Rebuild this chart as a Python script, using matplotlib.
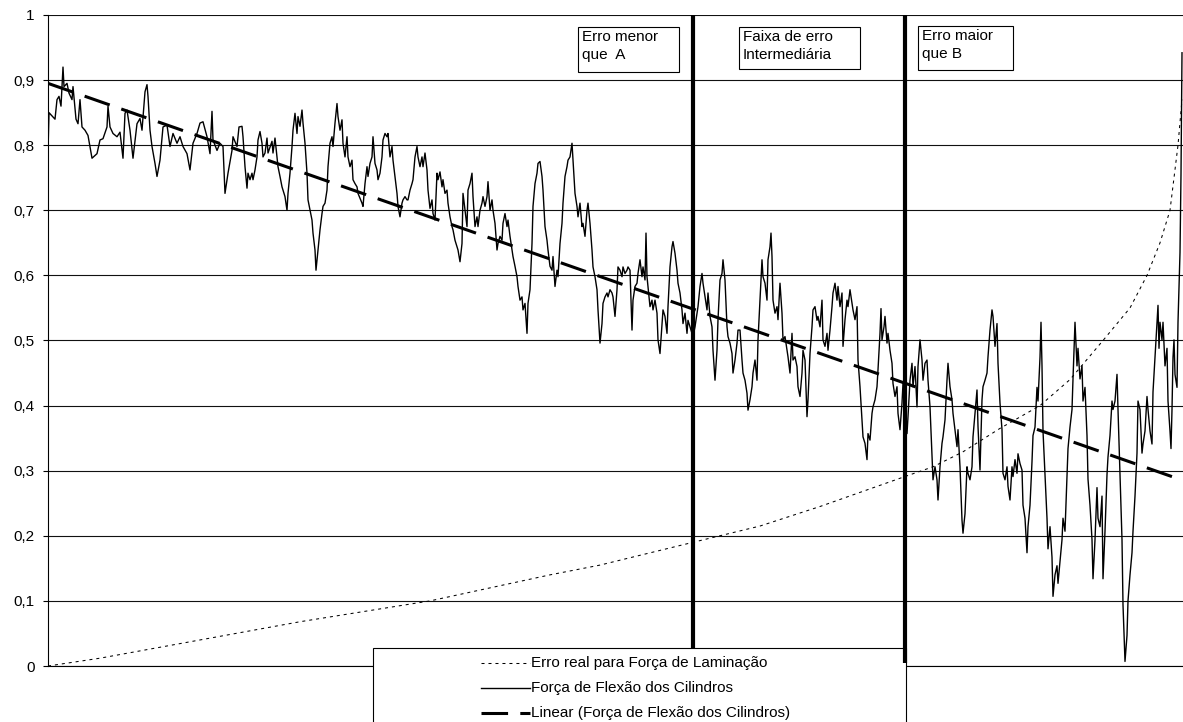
import matplotlib.pyplot as plt
from matplotlib.patches import Rectangle
from matplotlib.lines import Line2D

plt.rcParams['font.family'] = ['Liberation Sans', 'DejaVu Sans']

# ----------------------------------------------
# Data (samples sorted by rolling-force error)
# ----------------------------------------------
N_SAMPLES = 1135

flex_x = [
    0, 1, 4, 7, 9, 11, 13, 15, 16, 19,
    21, 24, 25, 28, 30, 32, 34, 37, 40, 44,
    49, 52, 55, 59, 60, 62, 65, 69, 72, 75,
    77, 79, 82, 85, 89, 92, 94, 97, 99, 100,
    102, 104, 107, 109, 112, 115, 119, 122, 125, 129,
    132, 135, 139, 142, 145, 149, 152, 155, 159, 162,
    164, 165, 169, 172, 175, 177, 180, 184, 185, 189,
    191,
    194, 195, 197, 199, 200, 202, 204, 205, 207, 209,
    210, 212, 214, 215, 217, 219, 220, 224, 225, 227,
    229, 230, 232, 234, 237, 239, 240, 242, 244, 245,
    247, 249, 250, 252, 254, 255, 257, 259, 260, 264,
    265, 267, 268, 270, 272, 274, 275, 277, 279, 280,
    282, 284, 285, 287, 289, 290, 292, 294, 295, 297,
    299, 300, 302, 304, 305, 307, 309, 310, 314, 315,
    317, 319, 320, 322, 324, 325, 327, 329, 330, 332,
    334, 335, 337, 339, 340, 342, 344, 345, 347, 349,
    350, 352, 354, 355, 357, 359, 360, 362, 364, 365,
    367, 369, 370, 372, 374, 375, 377, 379, 380, 382,
    384, 385, 387,
    389, 390, 392, 394, 395, 397, 399, 400, 402, 404,
    405, 407, 409, 410, 412, 414, 415, 417, 419, 420,
    422, 424, 425, 427, 429, 430, 432, 434, 435, 437,
    439, 440, 442, 444, 445, 447, 449, 450, 452, 454,
    455, 457, 459, 460, 462, 464, 465, 467, 469, 470,
    472, 474, 475, 477, 479, 480, 482, 484, 485, 487,
    489, 490, 492, 494, 495, 497, 499, 500, 502, 504,
    505, 507, 509, 510, 512, 514, 515, 517, 519, 520,
    522, 524, 525, 527, 529, 530, 532, 534, 535, 537,
    539, 540, 542, 544, 545, 547, 549, 550, 552, 554,
    555, 557, 559, 560, 562, 564, 565, 567, 569, 570,
    572, 574, 575, 577, 579, 580, 582,
    584, 585, 587, 589, 590, 592, 594, 595, 597, 598,
    599, 600, 602, 604, 605, 607, 609, 610, 612, 614,
    615, 617, 619, 620, 622, 624, 625, 627, 629, 630,
    632, 634, 635, 637, 639, 640, 642, 644, 645, 647,
    649, 650, 652, 654, 655, 657, 659, 660, 662, 664,
    665, 667, 669, 670, 672, 674, 675, 677, 679, 680,
    682, 684, 685, 687, 689, 690, 692, 694, 695, 697,
    699, 700, 702, 704, 705, 707, 709, 710, 712, 714,
    715, 717, 719, 720, 722, 723, 724, 725, 727, 729,
    730, 732, 734, 735, 737, 739, 740, 742, 744, 745,
    747, 749, 750, 752, 754, 755, 757, 759, 760, 762,
    764, 765, 767, 769, 770, 772, 774, 775, 777,
    779, 780, 782, 784, 785, 787, 789, 790, 792, 794,
    795, 797, 799, 800, 802, 804, 805, 807, 809, 810,
    812, 814, 815, 817, 819, 820, 822, 824, 825, 827,
    829, 830, 832, 833, 834, 836, 837, 839, 840, 842,
    844, 845, 847, 849, 850, 852, 854, 855, 857, 859,
    860, 862, 864, 865, 867, 869, 870, 872, 874, 875,
    877, 879, 880, 882, 884, 885, 887, 889, 890, 892,
    894, 895, 897, 899, 900, 902, 904, 905, 907, 909,
    910, 912, 914, 915, 917, 919, 920, 922, 924, 925,
    927, 929, 930, 932, 934, 935, 937, 939, 940, 942,
    944, 945, 947, 949, 950, 952, 954, 955, 957, 959,
    960, 962, 964, 965, 967, 969, 970, 972,
    974, 975, 977, 979, 980, 982, 984, 985, 987, 989,
    990, 992, 993, 994, 995, 997, 999, 1000, 1002, 1004,
    1005, 1007, 1009, 1010, 1012, 1014, 1015, 1017, 1019, 1020,
    1022, 1024, 1025, 1027, 1029, 1030, 1032, 1034, 1035, 1037,
    1039, 1040, 1042, 1044, 1045, 1047, 1049, 1050, 1052, 1054,
    1055, 1057, 1059, 1060, 1062, 1064, 1065, 1067, 1069, 1070,
    1072, 1074, 1075, 1077, 1079, 1080, 1082, 1084, 1085, 1087,
    1089, 1090, 1092, 1094, 1095, 1097, 1099, 1100, 1102, 1104,
    1105, 1107, 1109, 1110, 1111, 1112, 1114, 1115, 1117, 1119,
    1120, 1122, 1123, 1124, 1125, 1126, 1127, 1129, 1130, 1132,
    1133, 1134,
]

flex_y = [
    0.79, 0.85, 0.845, 0.84, 0.87, 0.875, 0.86, 0.92, 0.89, 0.895,
    0.88, 0.87, 0.89, 0.84, 0.833, 0.87, 0.828, 0.823, 0.815, 0.78,
    0.787, 0.808, 0.81, 0.828, 0.86, 0.828, 0.818, 0.813, 0.82, 0.78,
    0.849, 0.854, 0.823, 0.78, 0.833, 0.841, 0.823, 0.882, 0.893, 0.875,
    0.823, 0.798, 0.772, 0.752, 0.777, 0.828, 0.831, 0.798, 0.818, 0.803,
    0.813, 0.798, 0.787, 0.762, 0.803, 0.818, 0.834, 0.836, 0.813, 0.787,
    0.852, 0.808, 0.792, 0.803, 0.798, 0.726, 0.757, 0.792, 0.813, 0.798,
    0.828,
    0.829, 0.813, 0.767, 0.734, 0.757, 0.747, 0.757, 0.747, 0.762, 0.782,
    0.808, 0.821, 0.803, 0.782, 0.788, 0.811, 0.788, 0.806, 0.788, 0.811,
    0.782, 0.767, 0.752, 0.736, 0.721, 0.700, 0.726, 0.757, 0.798, 0.823,
    0.849, 0.818, 0.844, 0.829, 0.854, 0.834, 0.803, 0.757, 0.716, 0.685,
    0.665, 0.639, 0.608, 0.639, 0.670, 0.695, 0.706, 0.711, 0.731, 0.767,
    0.803, 0.813, 0.798, 0.834, 0.864, 0.844, 0.823, 0.839, 0.803, 0.782,
    0.813, 0.782, 0.767, 0.777, 0.747, 0.741, 0.736, 0.726, 0.711, 0.706,
    0.741, 0.767, 0.752, 0.772, 0.782, 0.813, 0.772, 0.762, 0.747, 0.757,
    0.782, 0.808, 0.818, 0.813, 0.818, 0.782, 0.798, 0.777, 0.752, 0.726,
    0.706, 0.690, 0.711, 0.716, 0.721, 0.716, 0.716, 0.731, 0.741, 0.747,
    0.782, 0.798, 0.782, 0.767, 0.782, 0.767, 0.788, 0.762, 0.731, 0.703,
    0.716, 0.695, 0.685,
    0.757, 0.747, 0.759, 0.736, 0.747, 0.726, 0.731, 0.711, 0.690, 0.675,
    0.670, 0.654, 0.644, 0.639, 0.621, 0.649, 0.726, 0.700, 0.675, 0.731,
    0.741, 0.757, 0.721, 0.675, 0.690, 0.675, 0.700, 0.711, 0.721, 0.706,
    0.721, 0.744, 0.700, 0.716, 0.700, 0.680, 0.639, 0.649, 0.660, 0.654,
    0.680, 0.695, 0.675, 0.685, 0.660, 0.639, 0.629, 0.614, 0.598, 0.583,
    0.562, 0.567, 0.547, 0.557, 0.511, 0.557, 0.578, 0.649, 0.706, 0.741,
    0.757, 0.772, 0.775, 0.752, 0.731, 0.675, 0.654, 0.639, 0.614, 0.608,
    0.629, 0.583, 0.608, 0.598, 0.649, 0.680, 0.711, 0.752, 0.767, 0.777,
    0.782, 0.803, 0.777, 0.726, 0.706, 0.690, 0.711, 0.675, 0.680, 0.660,
    0.700, 0.711, 0.680, 0.639, 0.613, 0.598, 0.578, 0.547, 0.496, 0.526,
    0.557, 0.567, 0.573, 0.567, 0.578, 0.573, 0.567, 0.537, 0.578, 0.613,
    0.608, 0.598, 0.613, 0.603, 0.608, 0.613, 0.608,
    0.516, 0.562, 0.583, 0.588, 0.603, 0.624, 0.598, 0.613, 0.593, 0.665,
    0.598, 0.583, 0.552, 0.562, 0.547, 0.562, 0.542, 0.501, 0.480, 0.526,
    0.547, 0.537, 0.511, 0.552, 0.613, 0.644, 0.652, 0.634, 0.608, 0.588,
    0.573, 0.547, 0.526, 0.542, 0.511, 0.531, 0.521, 0.511, 0.506, 0.521,
    0.542, 0.552, 0.583, 0.603, 0.588, 0.567, 0.547, 0.573, 0.537, 0.521,
    0.485, 0.439, 0.485, 0.532, 0.593, 0.603, 0.624, 0.593, 0.521, 0.506,
    0.496, 0.480, 0.450, 0.470, 0.496, 0.516, 0.516, 0.470, 0.450, 0.439,
    0.419, 0.393, 0.409, 0.429, 0.450, 0.470, 0.439, 0.501, 0.562, 0.624,
    0.598, 0.588, 0.562, 0.624, 0.644, 0.665, 0.629, 0.562, 0.542, 0.552,
    0.532, 0.588, 0.542, 0.501, 0.506, 0.485, 0.475, 0.450, 0.511, 0.470,
    0.475, 0.460, 0.429, 0.414, 0.450, 0.485, 0.470, 0.383, 0.409, 0.480,
    0.521, 0.547, 0.552, 0.531, 0.537, 0.521, 0.562, 0.501, 0.491,
    0.511, 0.485, 0.516, 0.552, 0.573, 0.588, 0.562, 0.583, 0.552, 0.573,
    0.491, 0.532, 0.562, 0.552, 0.578, 0.557, 0.547, 0.532, 0.552, 0.470,
    0.429, 0.378, 0.352, 0.342, 0.317, 0.357, 0.347, 0.388, 0.398, 0.409,
    0.429, 0.455, 0.511, 0.549, 0.501, 0.521, 0.537, 0.496, 0.511, 0.485,
    0.465, 0.434, 0.414, 0.429, 0.388, 0.363, 0.404, 0.434, 0.393, 0.357,
    0.383, 0.439, 0.465, 0.429, 0.460, 0.398, 0.460, 0.501, 0.470, 0.439,
    0.465, 0.470, 0.439, 0.398, 0.321, 0.286, 0.306, 0.286, 0.255, 0.306,
    0.342, 0.352, 0.378, 0.439, 0.465, 0.429, 0.409, 0.388, 0.363, 0.337,
    0.363, 0.306, 0.224, 0.204, 0.234, 0.306, 0.296, 0.286, 0.306, 0.352,
    0.388, 0.424, 0.368, 0.301, 0.409, 0.429, 0.439, 0.450, 0.475, 0.516,
    0.547, 0.537, 0.491, 0.526, 0.465, 0.404, 0.363, 0.296, 0.286, 0.306,
    0.276, 0.255, 0.306, 0.291, 0.317, 0.296, 0.326, 0.311,
    0.301, 0.247, 0.227, 0.174, 0.214, 0.247, 0.314, 0.354, 0.367, 0.428,
    0.407, 0.474, 0.528, 0.461, 0.361, 0.294, 0.227, 0.180, 0.214, 0.167,
    0.107, 0.140, 0.154, 0.127, 0.160, 0.194, 0.227, 0.207, 0.294, 0.334,
    0.367, 0.394, 0.441, 0.528, 0.461, 0.488, 0.441, 0.461, 0.407, 0.428,
    0.354, 0.287, 0.247, 0.194, 0.134, 0.194, 0.274, 0.227, 0.214, 0.261,
    0.134, 0.207, 0.294, 0.321, 0.354, 0.407, 0.394, 0.407, 0.448, 0.394,
    0.294, 0.194, 0.094, 0.007, 0.047, 0.100, 0.140, 0.174, 0.207, 0.261,
    0.327, 0.407, 0.394, 0.327, 0.341, 0.361, 0.414, 0.394, 0.361, 0.341,
    0.421, 0.474, 0.528, 0.554, 0.488, 0.528, 0.501, 0.528, 0.461, 0.488,
    0.407, 0.361, 0.334, 0.394, 0.474, 0.501, 0.448, 0.428, 0.528, 0.635,
    0.755, 0.942,
]

# real error of the rolling force model (sorted ascending)
erro_x = [0, 52, 152, 252, 382, 502, 552, 645, 712, 772, 855, 885, 915,
          952, 992, 1022, 1055, 1082, 1099, 1112, 1122, 1130, 1134]
erro_y = [0.0, 0.012, 0.04, 0.068, 0.10, 0.14, 0.155, 0.19, 0.215, 0.245,
          0.29, 0.306, 0.329, 0.365, 0.40, 0.44, 0.50, 0.55, 0.60, 0.65,
          0.70, 0.80, 0.87]

# linear trend of the bending force
trend_x = [0, N_SAMPLES]
trend_y = [0.895, 0.285]

# error band limits (A and B)
band_limits = [645, 857]
band_notes = ['Erro menor\nque  A', 'Faixa de erro\nIntermediária', 'Erro maior\nque B']

y_ticks = [0, 0.1, 0.2, 0.3, 0.4, 0.5, 0.6, 0.7, 0.8, 0.9, 1.0]
y_labels = ['0', '0,1', '0,2', '0,3', '0,4', '0,5', '0,6', '0,7', '0,8', '0,9', '1']

legend_labels = ['Erro real para Força de Laminação',
                 'Força de Flexão dos Cilindros',
                 'Linear (Força de Flexão dos Cilindros)']

# ----------------------------------------------
# Figure
# ----------------------------------------------
W, H = 1183, 722
fig = plt.figure(figsize=(W / 100, H / 100), dpi=100)
fig.patch.set_facecolor('white')
ax = fig.add_axes([48 / W, 56 / H, 1135 / W, 651 / H])

ax.set_xlim(0, N_SAMPLES)
ax.set_ylim(0, 1)
ax.set_xticks([])
ax.set_yticks(y_ticks, y_labels)
ax.tick_params(axis='y', length=3.6, width=0.8, pad=6, labelsize=11)
ax.yaxis.grid(True, color='#111111', linewidth=0.8)
ax.set_axisbelow(True)
for side in ['top', 'right']:
    ax.spines[side].set_visible(False)
for side in ['left', 'bottom']:
    ax.spines[side].set_linewidth(0.8)

dotted = (0, (2.9, 3.8))
long_dash = (0, (8.7, 4))

ax.plot(erro_x, erro_y, color='black', linewidth=0.75, linestyle=dotted, zorder=3)
ax.plot(flex_x, flex_y, color='black', linewidth=1.0, zorder=3)
ax.plot(trend_x, trend_y, color='black', linewidth=2.2, linestyle=long_dash, zorder=4)

# thick separators between the error bands (the first stops at the legend box)
ax.plot([band_limits[0]] * 2, [1.0, 0.027], color='black', linewidth=3,
        solid_capstyle='butt', clip_on=False, zorder=6)
ax.plot([band_limits[1]] * 2, [1.0, 0.005], color='black', linewidth=3,
        solid_capstyle='butt', clip_on=False, zorder=8)

# text boxes above each band
px_y = 1 / 651
boxes = [(530, 631, 0.9816, 0.9124), (691, 812, 0.9816, 0.917), (870, 965, 0.983, 0.9155)]
for (x0, x1, ytop, ybot), note in zip(boxes, band_notes):
    ax.add_patch(Rectangle((x0, ybot), x1 - x0, ytop - ybot, facecolor='white',
                           edgecolor='black', linewidth=0.8, zorder=5))
    ax.text(x0 + 4, ytop - 3 * px_y, note, ha='left', va='top', fontsize=11,
            linespacing=1.38, zorder=6)

# ----------------------------------------------
# Legend (drawn below the plot, cut by the figure edge)
# ----------------------------------------------
def fx(x):
    return x / W


def fy(y):
    return 1 - y / H


frame = Rectangle((fx(373), fy(770)), fx(906) - fx(373), fy(648) - fy(770),
                  transform=fig.transFigure, facecolor='white', edgecolor='black',
                  linewidth=0.8)
ax.add_artist(frame)
frame.set_clip_on(False)
frame.set_zorder(7)

styles = [dict(linewidth=0.75, linestyle=dotted),
          dict(linewidth=1.0, linestyle='-'),
          dict(linewidth=2.2, linestyle=long_dash)]
for i, (label, st) in enumerate(zip(legend_labels, styles)):
    yy = 663 + 25 * i
    ln = Line2D([fx(481), fx(530)], [fy(yy)] * 2, transform=fig.transFigure,
                color='black', **st)
    ax.add_artist(ln)
    ln.set_clip_on(False)
    ln.set_zorder(7.5)
    ax.text(fx(531), fy(yy), label, transform=fig.transFigure, ha='left',
            va='center', fontsize=11, zorder=7.5)

fig.savefig('out.png', dpi=100)
